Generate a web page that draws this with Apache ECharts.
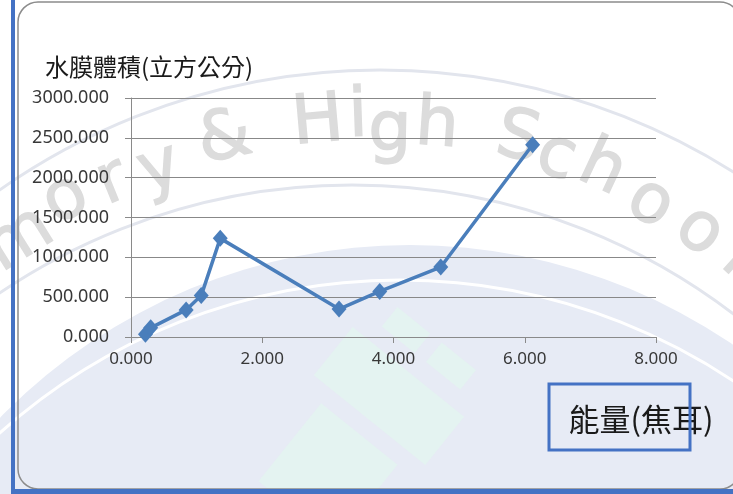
<!DOCTYPE html>
<html><head><meta charset="utf-8">
<script src="https://cdn.jsdelivr.net/npm/echarts@6/dist/echarts.min.js"></script>
<style>html,body{margin:0;padding:0;background:#fff}#c{width:733px;height:494px}</style>
</head><body><div id="c"></div>
<script>
// data
var energy = [0.22, 0.30, 0.84, 1.07, 1.36, 3.17, 3.79, 4.72, 6.12];
var volume = [35, 115, 340, 520, 1238, 351, 572, 878, 2413];
var yTitle = '水膜體積(立方公分)';
var xTitle = '能量(焦耳)';
// watermark letters: [char, x, y, rotation deg]
var watermark = [['m',20,240,32],['o',66,200,27],['r',113,183,22],['y',160,170,18],['&',225,140,12],
  ['H',318,124,5],['i',358,118,2],['g',390,132,-1],['h',437,127,-4],['S',518,140,-12],['c',556,158,-18],
  ['h',602,170,-25],['o',650,204,-31],['o',699,232,-37],['l',738,258,-42]];

var pts = energy.map(function(x,i){return [x, volume[i]];});
var wmEls = watermark.map(function(w){
  return {type:'text', z:-5, silent:true, x:w[1], y:w[2], rotation:w[3]*Math.PI/180,
    style:{text:w[0], fill:'#dcdcdc', stroke:'#dcdcdc', lineWidth:1.5,
      font:'68px "DejaVu Sans", sans-serif', align:'center', verticalAlign:'middle'}};
});
function band(cx, cy, w, h, deg){
  return {type:'rect', z:-8, silent:true, x:cx, y:cy, rotation:deg*Math.PI/180,
    shape:{x:-w/2, y:-h/2, width:w, height:h}, style:{fill:'#e4f3f1'}};
}

var chart = echarts.init(document.getElementById('c'), null, {renderer:'canvas'});
chart.setOption({
  animation:false,
  backgroundColor:'#fff',
  grid:{left:131, right:77, top:98, bottom:157},
  xAxis:{type:'value', min:0, max:8, interval:2,
    axisLine:{show:true, lineStyle:{color:'#8a8a8a', width:1}},
    axisTick:{show:true, length:6, lineStyle:{color:'#8a8a8a'}},
    splitLine:{show:false},
    axisLabel:{margin:14, color:'#383838', fontSize:17, fontFamily:'"Noto Sans", sans-serif', formatter:function(v){return v.toFixed(3);}}},
  yAxis:{type:'value', min:0, max:3000, interval:500,
    axisLine:{show:true, lineStyle:{color:'#8a8a8a', width:1}},
    axisTick:{show:true, length:6, lineStyle:{color:'#8a8a8a'}},
    splitLine:{show:true, lineStyle:{color:'#888888', width:1.2}},
    axisLabel:{margin:22, color:'#383838', fontSize:18, fontFamily:'"Noto Sans", sans-serif', formatter:function(v){return v.toFixed(3);}}},
  graphic:[
    {type:'circle', z:-10, silent:true, shape:{cx:410, cy:818, r:573}, style:{fill:'#e7ebf5'}},
    {type:'circle', z:-9, silent:true, shape:{cx:380, cy:732, r:662}, style:{fill:'none', stroke:'#e2e5ed', lineWidth:3}},
    {type:'circle', z:-9, silent:true, shape:{cx:352, cy:813, r:628}, style:{fill:'none', stroke:'#e2e5ed', lineWidth:3}},
    {type:'circle', z:-9, silent:true, shape:{cx:400, cy:880, r:600}, style:{fill:'none', stroke:'#ffffff', lineWidth:3}},
    band(389, 396, 143, 62, -38.8),
    band(406, 330, 42, 25, -38.8),
    band(451, 366, 44, 25, -38.8),
    band(328, 473, 98, 100, -38.8)
  ].concat(wmEls).concat([
    {type:'rect', z:5, silent:true, shape:{x:18, y:2, width:722, height:487, r:20}, style:{fill:'none', stroke:'#8c8c8c', lineWidth:1.5}},
    {type:'rect', z:6, silent:true, shape:{x:11, y:0, width:4, height:494}, style:{fill:'#4472c4'}},
    {type:'rect', z:6, silent:true, shape:{x:11, y:489, width:722, height:5}, style:{fill:'#4472c4'}},
    {type:'text', z:6, silent:true, x:45, y:67, style:{text:yTitle, fill:'#1a1a1a', font:'24px "Noto Sans CJK TC", sans-serif', verticalAlign:'middle'}},
    {type:'text', z:6, silent:true, x:641, y:419, style:{text:xTitle, fill:'#1a1a1a', font:'31px "Noto Sans CJK TC", sans-serif', align:'center', verticalAlign:'middle'}},
    {type:'rect', z:7, silent:true, shape:{x:549, y:384, width:141, height:66}, style:{fill:'none', stroke:'#4472c4', lineWidth:3}}
  ]),
  series:[{type:'line', data:pts, symbol:'diamond', symbolSize:[15,17],
    lineStyle:{color:'#4a7ebb', width:3.5}, itemStyle:{color:'#4a7ebb'}, z:3}]
});
</script></body></html>
